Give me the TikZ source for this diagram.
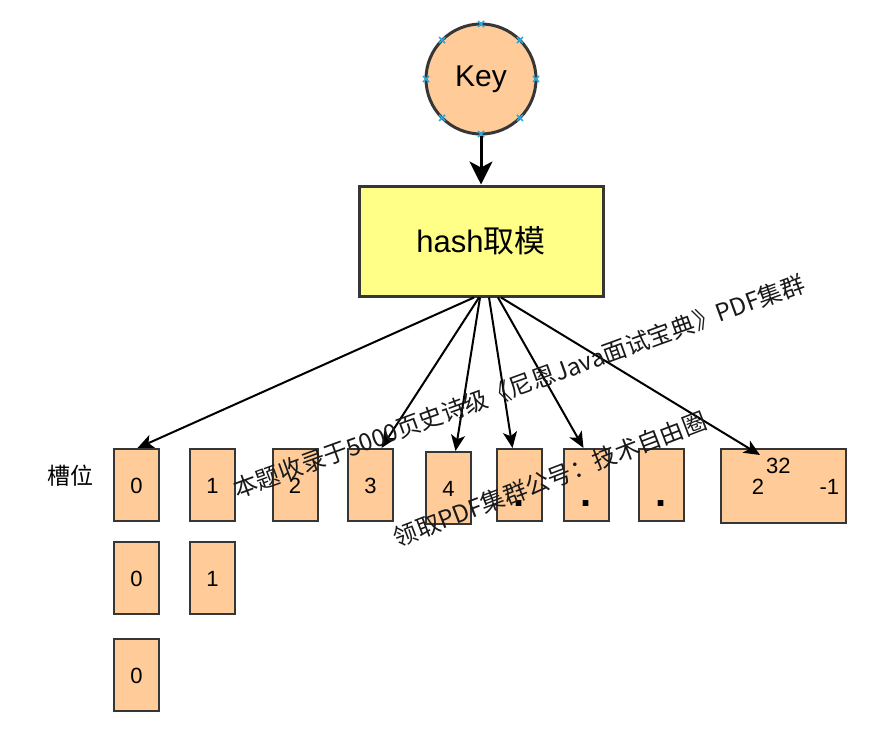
\documentclass[tikz,border=0pt]{standalone}
\usepackage{fontspec}
\setmainfont{Liberation Sans}
\newfontfamily\cjk{Noto Sans CJK SC}
\usetikzlibrary{arrows.meta,calc}
\definecolor{peach}{HTML}{FFCC99}
\definecolor{hashyellow}{HTML}{FFFF88}
\definecolor{strokegray}{HTML}{363636}
\definecolor{markblue}{HTML}{29A8E0}
\begin{document}
\begin{tikzpicture}[x=1pt,y=-1pt,
  slot/.style={draw=strokegray, line width=2pt, fill=peach, minimum width=45pt, minimum height=72pt,
    inner sep=0pt, text height=16pt, text depth=0pt, font=\fontsize{22}{24}\selectfont},
  conn/.style={draw=black, line width=2pt, -{Stealth[length=16pt,width=14pt,inset=4pt]}},
  thickconn/.style={draw=black, line width=3pt, -{Stealth[length=23pt,width=23pt,inset=6pt]}},
  dotlabel/.style={font=\fontsize{40}{42}\selectfont\bfseries},
  wm/.style={font=\fontsize{24}{26}\selectfont\cjk, text=black!90, inner sep=0pt}
]
\useasboundingbox (0,0) rectangle (885,728);

% Key circle
\node[circle, draw=strokegray, line width=3pt, fill=peach, minimum size=110pt, inner sep=0pt,
  font=\fontsize{30}{32}\selectfont] (key) at (481,79) {Key};
\foreach \a in {0,45,...,315}{
  \draw[markblue, line width=1.6pt] ($(key.center)+(\a:55pt)+(-3pt,-3pt)$) -- ++(6pt,6pt)
    ($(key.center)+(\a:55pt)+(-3pt,3pt)$) -- ++(6pt,-6pt);
}

% hash box
\node[draw=strokegray, line width=3pt, fill=hashyellow, minimum width=244pt, minimum height=110pt,
  inner sep=0pt, font=\fontsize{31}{33}\selectfont] (hash) at (481,241) {hash{\cjk 取模}};

\draw[thickconn] (key.south) -- (hash.north);

% label
\node[font=\fontsize{23}{25}\selectfont\cjk] (caowei) at (70,476) {槽位};

% slots row 1
\node[slot] (s0) at (136.5,485) {0};
\node[slot] (s1) at (212.5,485) {1};
\node[slot] (s2) at (295,485) {2};
\node[slot] (s3) at (370.5,485) {3};
\node[slot] (s4) at (448.5,488) {4};
\node[slot, dotlabel] (s5) at (519.5,485) {\raisebox{-13pt}{.}};
\node[slot, dotlabel] (s6) at (586.5,485) {\raisebox{-13pt}{.}};
\node[slot, dotlabel] (s7) at (661.5,485) {\raisebox{-13pt}{.}};
\node[slot, minimum width=125pt, minimum height=74pt] (s9) at (783.5,486)
  {\hspace*{24pt}2\hspace{2pt}\raisebox{21pt}{32}\hspace{29pt}-1};

% rows 2 and 3
\node[slot] (r0) at (136.5,578) {0};
\node[slot] (r1) at (212.5,578) {1};
\node[slot] (q0) at (136.5,675) {0};

% connectors
\coordinate (t9) at (760,455);
\draw[conn] ([xshift=-7pt]hash.south) -- ([xshift=1pt]s0.north);
\draw[conn] ([xshift=-2pt]hash.south) -- ([xshift=11pt]s3.north);
\draw[conn] ([xshift=-1pt]hash.south) -- ([xshift=7pt]s4.north);
\draw[conn] ([xshift=8pt]hash.south) -- ([xshift=-7pt]s5.north);
\draw[conn] ([xshift=17pt]hash.south) -- ([xshift=-3pt]s6.north);
\draw[conn] ([xshift=20pt]hash.south) -- (t9);

% watermark texts
\node[wm, rotate=20] (wm1) at (519,386) {本题收录于5000页史诗级《尼恩Java面试宝典》PDF集群};
\node[wm, rotate=21] (wm2) at (550,479) {领取PDF集群公号：技术自由圈};
\end{tikzpicture}
\end{document}
